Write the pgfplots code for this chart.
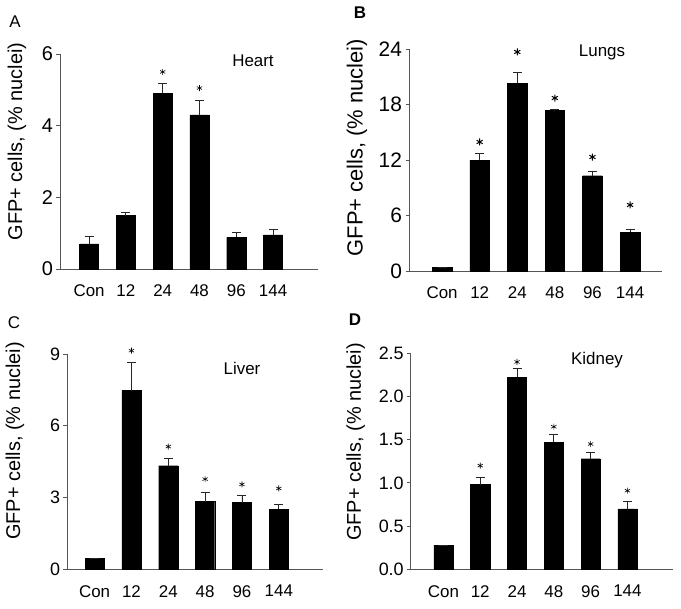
\documentclass[border=0pt]{standalone}
\usepackage{fontspec}
\setmainfont{Liberation Sans}
\usepackage{pgfplots}
\pgfplotsset{compat=1.18}
\definecolor{axgray}{HTML}{555555}
\pgfplotsset{
 panel/.style={
  scale only axis,
  anchor=south west,
  axis x line*=bottom, axis y line*=left,
  axis line style={axgray, line width=0.8bp},
  ymin=0,
  xtick={0,...,5},
  xticklabels={Con,12,24,48,96,144},
  x tick style={draw=none},
  major tick length=3.5bp,
  y tick style={axgray, line width=0.8bp},
  tick align=outside,
  xticklabel style={font=\fontsize{17}{19}\selectfont, yshift=-9bp},
  /pgf/number format/assume math mode=true,
  ylabel={GFP+ cells, (\% nuclei)},
  clip=false,
 },
 bars/.style={ybar, bar width=0.52, fill=black, draw=black, bar shift=0pt,
   error bars/.cd, y dir=plus, y explicit,
   error bar style={line width=0.9bp, color=black!85},
   error mark=-, error mark options={rotate=90, line width=0.9bp, mark size=4.5bp, black!85}},
 stars/.style={only marks, mark=asterisk, mark size=3bp, line width=0.6bp, black}
}
\begin{document}
\begin{tikzpicture}
\useasboundingbox (0,0) rectangle (681bp,609bp);
% Panel A
\begin{axis}[panel, at={(60bp,340bp)}, width=258bp, height=215bp,
  xmin=-0.79, xmax=6.22, ymax=6, ytick={0,2,4,6},
  yticklabel style={font=\fontsize{20}{22}\selectfont},
  ylabel style={at={(axis description cs:-0.167,0.593)}, anchor=center, font=\fontsize{20}{22}\selectfont}]
\addplot[bars] coordinates {(0,0.70) +- (0,0.22) (1,1.49) +- (0,0.10) (2,4.90) +- (0,0.28) (3,4.30) +- (0,0.39) (4,0.88) +- (0,0.15) (5,0.95) +- (0,0.14)};
\addplot[stars] coordinates {(2,5.50) (3,5.05)};
\end{axis}
% Panel B
\begin{axis}[panel, at={(409bp,338bp)}, width=253bp, height=222bp,
  xmin=-0.88, xmax=5.85, ymax=24, ytick={0,6,12,18,24},
  yticklabel style={font=\fontsize{21}{23}\selectfont},
  ylabel style={at={(axis description cs:-0.206,0.556)}, anchor=center, font=\fontsize{22}{24}\selectfont}]
\addplot[bars] coordinates {(0,0.40) +- (0,0) (1,11.97) +- (0,0.75) (2,20.3) +- (0,1.2) (3,17.33) +- (0,0.1) (4,10.3) +- (0,0.47) (5,4.18) +- (0,0.36)};
\addplot[stars, mark size=3.5bp, line width=1bp] coordinates {(1,13.95) (2,23.68) (3,18.70) (4,12.32) (5,7.14)};
\end{axis}
% Panel C
\begin{axis}[panel, at={(67bp,39.7bp)}, width=256bp, height=215.3bp,
  xmin=-0.75, xmax=6.20, ymax=9, ytick={0,3,6,9},
  yticklabel style={font=\fontsize{18}{20}\selectfont},
  ylabel style={at={(axis description cs:-0.203,0.596)}, anchor=center, font=\fontsize{20}{22}\selectfont}]
\addplot[bars] coordinates {(0,0.46) +- (0,0) (1,7.47) +- (0,1.18) (2,4.33) +- (0,0.29) (3,2.83) +- (0,0.39) (4,2.79) +- (0,0.29) (5,2.52) +- (0,0.20)};
\addplot[stars] coordinates {(1,9.14) (2,5.13) (3,3.77) (4,3.55) (5,3.38)};
\end{axis}
% Panel D
\begin{axis}[panel, at={(410.7bp,39.7bp)}, width=262.3bp, height=216bp,
  xmin=-0.89, xmax=6.24, ymax=2.5, ytick={0,0.5,1,1.5,2,2.5},
  yticklabel style={font=\fontsize{18}{20}\selectfont, /pgf/number format/.cd, fixed, fixed zerofill, precision=1},
  ylabel style={at={(axis description cs:-0.21,0.59)}, anchor=center, font=\fontsize{20}{22}\selectfont}]
\addplot[bars] coordinates {(0,0.28) +- (0,0) (1,0.98) +- (0,0.08) (2,2.22) +- (0,0.10) (3,1.47) +- (0,0.09) (4,1.28) +- (0,0.07) (5,0.70) +- (0,0.08)};
\addplot[stars] coordinates {(1,1.20) (2,2.40) (3,1.65) (4,1.45) (5,0.91)};
\end{axis}
% labels
\node[font=\fontsize{17}{19}\selectfont] at (253bp,548bp) {Heart};
\node[font=\fontsize{17}{19}\selectfont] at (602bp,557bp) {Lungs};
\node[font=\fontsize{17}{19}\selectfont] at (242bp,241bp) {Liver};
\node[font=\fontsize{17}{19}\selectfont] at (597bp,249bp) {Kidney};
\node[font=\fontsize{17}{19}\selectfont] at (15bp,587bp) {A};
\node[font=\fontsize{17}{19}\selectfont\bfseries] at (360bp,596bp) {B};
\node[font=\fontsize{17}{19}\selectfont] at (14bp,286bp) {C};
\node[font=\fontsize{17}{19}\selectfont\bfseries] at (355bp,289bp) {D};
\end{tikzpicture}
\end{document}
